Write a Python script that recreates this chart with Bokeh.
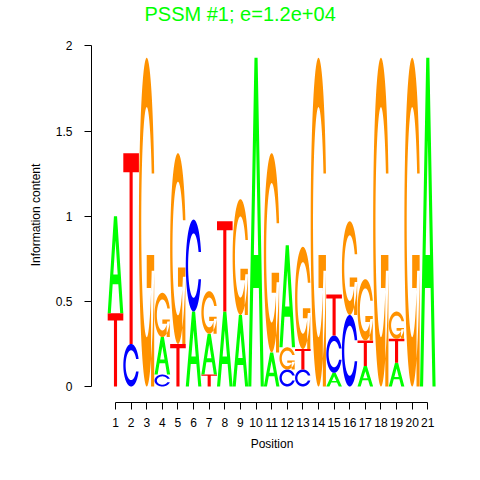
import numpy as np
from bokeh.plotting import figure
from bokeh.models import FixedTicker, CustomJSTickFormatter, ColumnDataSource, Range1d
from bokeh.embed import file_html
from bokeh.resources import INLINE

# ---- data (information content of each base at each position) ----
positions = list(range(1, 22))
ic_A = [0.57, 0, 0, 0.22, 0, 0.44, 0.24, 0.44, 0.42, 1.93, 0.20, 0.60, 0, 0, 0.08, 0, 0.12, 0, 0.14, 0, 1.93]
ic_C = [0, 0.25, 0, 0.07, 0, 0.54, 0, 0, 0, 0, 0, 0.10, 0.10, 0, 0.22, 0.42, 0, 0, 0, 0, 0]
ic_G = [0, 0, 1.93, 0.26, 1.12, 0, 0.25, 0, 0.68, 0, 1.17, 0.13, 0.60, 1.93, 0, 0.55, 0.36, 1.93, 0.16, 1.93, 0]
ic_T = [0.43, 1.12, 0, 0, 0.25, 0, 0.07, 0.53, 0, 0, 0, 0, 0.12, 0, 0.24, 0, 0.15, 0, 0.14, 0, 0]
y_ticks = [0, 0.5, 1, 1.5, 2]
title_text = "PSSM #1; e=1.2e+04"

base_colors = {"A": "#00FF00", "C": "#0000FF", "G": "#FF9200", "T": "#FF0000"}


# ---- letter outlines in a unit box (seqLogo style) ----
def c_ring():
    a1 = np.linspace(0.3 + np.pi / 2, np.pi, 100)
    a2 = np.linspace(np.pi, 1.5 * np.pi, 100)
    xl1 = 0.5 + 0.5 * np.sin(a1); yl1 = 0.5 + 0.5 * np.cos(a1)
    xl2 = 0.5 + 0.5 * np.sin(a2); yl2 = 0.5 + 0.5 * np.cos(a2)
    xl = np.r_[xl1, xl2]; yl = np.r_[yl1, yl2]
    x = np.r_[xl, xl[::-1]]; y = np.r_[yl, 1 - yl[::-1]]
    xi1 = 0.5 + 0.35 * np.sin(a1); yi1 = 0.5 + 0.35 * np.cos(a1)
    m = yi1 <= yl1.max()
    xi1 = xi1[m]; yi1 = yi1[m].copy(); yi1[0] = yl1.max()
    xi2 = 0.5 + 0.35 * np.sin(a2); yi2 = 0.5 + 0.35 * np.cos(a2)
    xi = np.r_[xi1, xi2]; yi = np.r_[yi1, yi2]
    x1 = np.r_[xi, xi[::-1]]; y1 = np.r_[yi, 1 - yi[::-1]]
    return np.r_[x, x1[::-1]], np.r_[y, y1[::-1]], xl1.max()


def letter_shape(b):
    if b == "A":
        ox = np.array([0, 4, 6, 10, 8, 6.8, 3.2, 2, 0]) * 0.1
        oy = np.array([0, 10, 10, 0, 0, 3, 3, 0, 0]) * 0.1
        hx = np.array([3.6, 5, 6.4, 3.6]) * 0.1
        hy = np.array([4, 7.5, 4, 4]) * 0.1
        return [[(ox, oy), (hx, hy)]]
    if b == "T":
        x = np.array([0, 10, 10, 6, 6, 4, 4, 0]) * 0.1
        y = np.array([10, 10, 9, 9, 0, 0, 9, 9]) * 0.1
        return [[(x, y)]]
    x, y, r1 = c_ring()
    if b == "C":
        return [[(x, y)]]
    h1 = 0.4
    bx = np.array([r1, 0.5, 0.5, r1 - 0.2, r1 - 0.2, r1, r1])
    by = np.array([h1, h1, h1 - 0.1, h1 - 0.1, 0, 0, h1])
    return [[(x, y)], [(bx, by)]]


xs, ys, cols = [], [], []
heights = {"A": ic_A, "C": ic_C, "G": ic_G, "T": ic_T}
order_bases = ["A", "C", "G", "T"]
for i, pos in enumerate(positions):
    hs = [(heights[b][i], k, b) for k, b in enumerate(order_bases)]
    hs.sort()
    y0 = 0.0
    for h, _, b in hs:
        if h <= 0:
            continue
        polys_x, polys_y = [], []
        for poly in letter_shape(b):
            polys_x.append([list(pos - 0.5 + rx) for rx, ry in poly])
            polys_y.append([list(y0 + h * ry) for rx, ry in poly])
        xs.append(polys_x); ys.append(polys_y); cols.append(base_colors[b])
        y0 += h

src = ColumnDataSource(dict(xs=xs, ys=ys, color=cols))

p = figure(width=464, height=464, output_backend="svg", toolbar_location=None,
           x_range=Range1d(-0.537, 22.582), y_range=Range1d(-0.094, 2.108),
           min_border_left=91, min_border_right=12, min_border_top=27, min_border_bottom=62)

p.multi_polygons(xs="xs", ys="ys", fill_color="color", line_color=None, source=src)

p.xgrid.visible = False
p.ygrid.visible = False
p.outline_line_color = None
p.background_fill_color = "white"
p.border_fill_color = "white"

font = "Liberation Sans"
for ax in (p.xaxis[0], p.yaxis[0]):
    ax.major_tick_in = 0
    ax.major_tick_out = 7
    ax.minor_tick_line_color = None
    ax.axis_line_color = "black"
    ax.major_tick_line_color = "black"
    ax.major_label_text_font = font
    ax.major_label_text_font_size = "12px"
    ax.major_label_text_color = "black"
    ax.axis_label_text_font = font
    ax.axis_label_text_font_size = "12px"
    ax.axis_label_text_font_style = "normal"
    ax.axis_label_text_color = "black"

p.xaxis.ticker = FixedTicker(ticks=positions)
p.xaxis.bounds = (positions[0], positions[-1])
p.xaxis.axis_label = "Position"
p.xaxis.major_label_standoff = 8
p.xaxis.axis_label_standoff = 7

p.yaxis.ticker = FixedTicker(ticks=y_ticks)
p.yaxis.bounds = (y_ticks[0], y_ticks[-1])
p.yaxis.formatter = CustomJSTickFormatter(code="return String(tick)")
p.yaxis.axis_label = "Information content"
p.yaxis.major_label_standoff = 12
p.yaxis.axis_label_standoff = 10

p.title.text = title_text
p.title.text_color = "#00FF00"
p.title.text_font = font
p.title.text_font_size = "20px"
p.title.text_font_style = "normal"
p.title.align = "left"
p.title.offset = 53
p.title.vertical_align = "top"
p.title.standoff = 2

open("out.html", "w").write(file_html(p, INLINE))
